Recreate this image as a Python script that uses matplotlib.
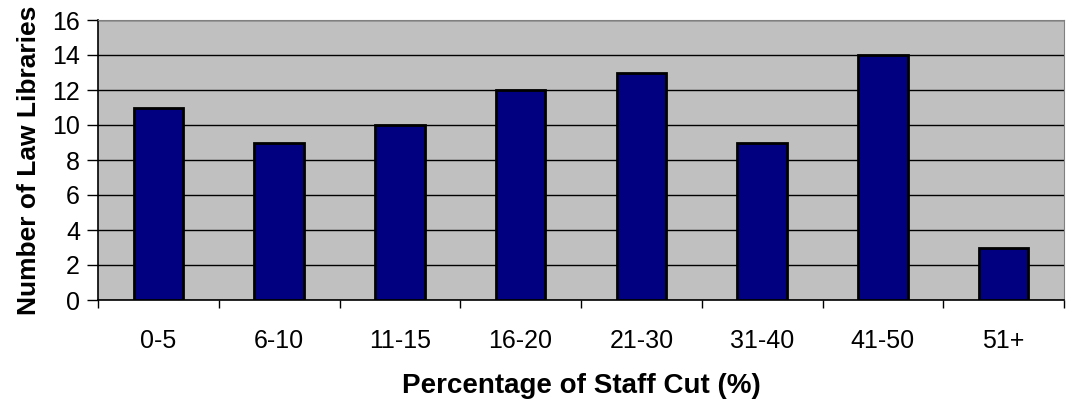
import numpy as np
import matplotlib.pyplot as plt

plt.rcParams['font.family'] = ['Liberation Sans', 'DejaVu Sans']

# Data
categories = ['0-5', '6-10', '11-15', '16-20', '21-30', '31-40', '41-50', '51+']
counts = [11, 9, 10, 12, 13, 9, 14, 3]

fig = plt.figure(figsize=(10.7, 4.04), dpi=100)
ax = fig.add_axes([98 / 1070, 1 - 300 / 404, (1064 - 98) / 1070, 280 / 404])
ax.set_facecolor('#C0C0C0')

x = np.arange(len(categories))
ax.bar(x, counts, width=0.41, color='#000080', edgecolor='black',
       linewidth=2, zorder=3)

ax.set_xlim(-0.5, len(categories) - 0.5)
ax.set_ylim(0, 16)
ax.set_yticks(range(0, 17, 2))
ax.yaxis.grid(True, color='black', linewidth=1, zorder=1)

# category labels centered, tick marks between categories
ax.set_xticks(x)
ax.set_xticklabels(categories, fontsize=18)
ax.tick_params(axis='x', length=0, pad=21)
ax.set_xticks(np.arange(-0.5, len(categories)), minor=True)
ax.tick_params(axis='x', which='minor', length=6, width=1, direction='out')
ax.tick_params(axis='y', labelsize=18, length=8, width=1, pad=5)

for side in ['top', 'right']:
    ax.spines[side].set_color('#808080')
for side in ['left', 'bottom']:
    ax.spines[side].set_color('black')
    ax.spines[side].set_linewidth(1.2)

ax.set_xlabel('Percentage of Staff Cut (%)', fontsize=20, fontweight='bold', labelpad=14)
ax.set_ylabel('Number of Law Libraries', fontsize=19, fontweight='bold', labelpad=8)

plt.savefig('out.png', dpi=100)
